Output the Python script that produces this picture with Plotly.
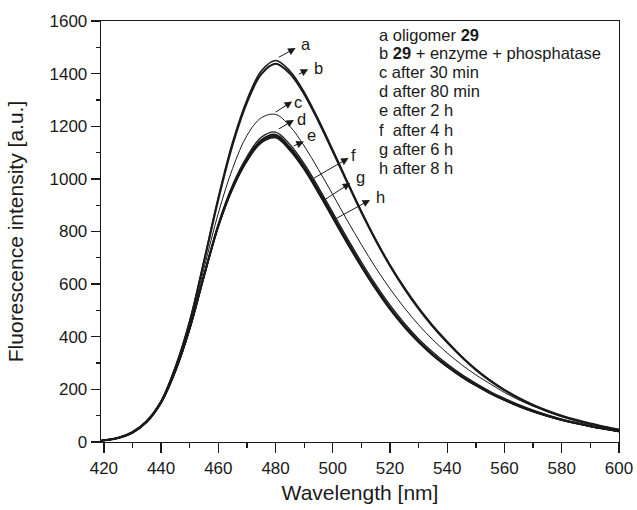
import plotly.graph_objects as go

wavelength = [419, 425, 430, 435, 440, 445, 450, 455, 460, 465, 470, 475, 480, 485, 490,
              495, 500, 505, 510, 515, 520, 525, 530, 535, 540, 545, 550, 555, 560, 565,
              570, 575, 580, 585, 590, 595, 600]

curve_a = [5, 16, 38, 80, 155, 285, 460, 690, 930, 1140, 1300, 1410, 1450, 1410, 1330,
           1225, 1110, 992, 877, 770, 673, 587, 510, 442, 382, 326, 277, 235, 199, 168,
           142, 120, 101, 85, 71, 59, 48]
curve_b = [5, 16, 38, 80, 154, 283, 457, 685, 922, 1130, 1290, 1398, 1438, 1400, 1322,
           1218, 1104, 987, 872, 766, 669, 583, 506, 438, 378, 323, 274, 232, 196, 165,
           139, 117, 98, 82, 68, 56, 45]
curve_c = [5, 16, 37, 79, 152, 278, 445, 660, 870, 1040, 1165, 1232, 1245, 1200, 1125,
           1035, 940, 843, 750, 662, 582, 510, 445, 388, 338, 294, 255, 221, 188, 160,
           136, 115, 97, 82, 68, 56, 46]
curve_d = [5, 15, 36, 78, 150, 272, 435, 637, 830, 978, 1085, 1158, 1178, 1131, 1058,
           968, 872, 776, 684, 598, 520, 452, 392, 341, 296, 257, 223, 192, 166, 142,
           121, 103, 87, 74, 62, 52, 42]
curve_e = [5, 15, 36, 77, 150, 271, 432, 633, 824, 970, 1076, 1148, 1168, 1120, 1047,
           957, 861, 765, 673, 588, 510, 443, 384, 333, 289, 251, 217, 187, 161, 138,
           118, 100, 85, 72, 60, 50, 41]
curve_f = [5, 15, 35, 77, 150, 270, 431, 632, 822, 967, 1072, 1143, 1163, 1115, 1042,
           952, 856, 760, 669, 584, 507, 440, 381, 331, 287, 249, 216, 186, 160, 137,
           117, 99, 84, 71, 60, 50, 40]
curve_g = [5, 15, 35, 76, 150, 270, 430, 630, 820, 965, 1070, 1140, 1160, 1112, 1039,
           949, 853, 758, 667, 582, 505, 438, 379, 329, 286, 248, 215, 185, 159, 136,
           116, 99, 84, 71, 59, 49, 40]
curve_h = [5, 15, 35, 76, 149, 269, 429, 628, 818, 962, 1067, 1137, 1156, 1108, 1035,
           945, 850, 755, 665, 580, 503, 436, 378, 328, 285, 247, 214, 184, 158, 135,
           115, 98, 83, 70, 59, 49, 40]

series = [("a", curve_a, 1.6), ("b", curve_b, 2.0), ("c", curve_c, 1.0), ("d", curve_d, 1.3),
          ("e", curve_e, 2.0), ("f", curve_f, 1.5), ("g", curve_g, 1.5), ("h", curve_h, 1.5)]

legend_lines = ["a oligomer <b>29</b>", "b <b>29</b> + enzyme + phosphatase", "c after 30 min",
                "d after 80 min", "e after 2 h", "f\u00a0 after 4 h", "g after 6 h", "h after 8 h"]
legend_y = [1548, 1477, 1407, 1335, 1260, 1186, 1114, 1042]
legend_x = 515.6

# arrows: (label, tail_x, tail_y, head_x, head_y, label_x, label_y)
arrows = [("a", 480.6, 1459, 487.0, 1497, 490.7, 1513),
          ("b", 487.6, 1395, 491.4, 1417, 494.9, 1421),
          ("c", 479.5, 1250, 485.8, 1294, 487.9, 1294),
          ("d", 480.6, 1186, 486.4, 1224, 489.1, 1227),
          ("e", 485.8, 1123, 489.9, 1142, 492.6, 1167),
          ("f", 492.8, 999, 505.5, 1079, 507.3, 1091),
          ("g", 496.2, 914, 506.1, 984, 509.6, 1009),
          ("h", 500.3, 844, 513.0, 920, 516.5, 933)]

FONT = "Liberation Sans, Arial, Helvetica, sans-serif"
INK = "#1a1a1a"

fig = go.Figure()
for name, vals, w in series:
    fig.add_trace(go.Scatter(x=wavelength, y=vals, mode="lines", name=name,
                             line=dict(color=INK, width=w, shape="spline", smoothing=1.0),
                             showlegend=False, hoverinfo="skip"))

annotations = []
for lab, tx, ty, hx, hy, lx, ly in arrows:
    annotations.append(dict(x=hx, y=hy, ax=tx, ay=ty, xref="x", yref="y", axref="x", ayref="y",
                            text="", showarrow=True, arrowhead=2, arrowsize=1.5, arrowwidth=1,
                            arrowcolor=INK, standoff=0, startstandoff=0))
    annotations.append(dict(x=lx, y=ly, xref="x", yref="y", text=lab, showarrow=False,
                            xanchor="center", yanchor="middle",
                            font=dict(family=FONT, size=16.5, color=INK)))
for txt, yy in zip(legend_lines, legend_y):
    annotations.append(dict(x=legend_x, y=yy, xref="x", yref="y", text=txt, showarrow=False,
                            xanchor="left", yanchor="middle",
                            font=dict(family=FONT, size=16.5, color=INK)))

axis_common = dict(showline=True, linecolor=INK, linewidth=1.3, mirror=True, ticks="outside",
                   tickcolor=INK, tickwidth=1.3, showgrid=False, zeroline=False, automargin=False,
                   tickfont=dict(family=FONT, size=17, color=INK))

fig.update_layout(
    width=637, height=510,
    margin=dict(l=101, r=18, t=21, b=68),
    paper_bgcolor="white", plot_bgcolor="white",
    font=dict(family=FONT, color=INK),
    annotations=annotations,
    xaxis=dict(range=[419, 600], tick0=420, dtick=20, ticklen=10,
               minor=dict(dtick=10, tick0=420, ticklen=5, ticks="outside", tickcolor=INK, tickwidth=1.3),
               title=dict(text="Wavelength [nm]", font=dict(family=FONT, size=21, color=INK), standoff=8),
               **axis_common),
    yaxis=dict(range=[0, 1600], tick0=0, dtick=200, ticklen=9,
               minor=dict(dtick=100, ticklen=4, ticks="outside", tickcolor=INK, tickwidth=1.3),
               title=dict(text="Fluorescence intensity [a.u.]", font=dict(family=FONT, size=21, color=INK), standoff=20),
               **axis_common),
)

fig.write_html("out.html", config={"displayModeBar": False, "staticPlot": True},
               post_script="document.body.style.margin='0';document.body.style.padding='0';document.body.style.overflow='hidden';")
